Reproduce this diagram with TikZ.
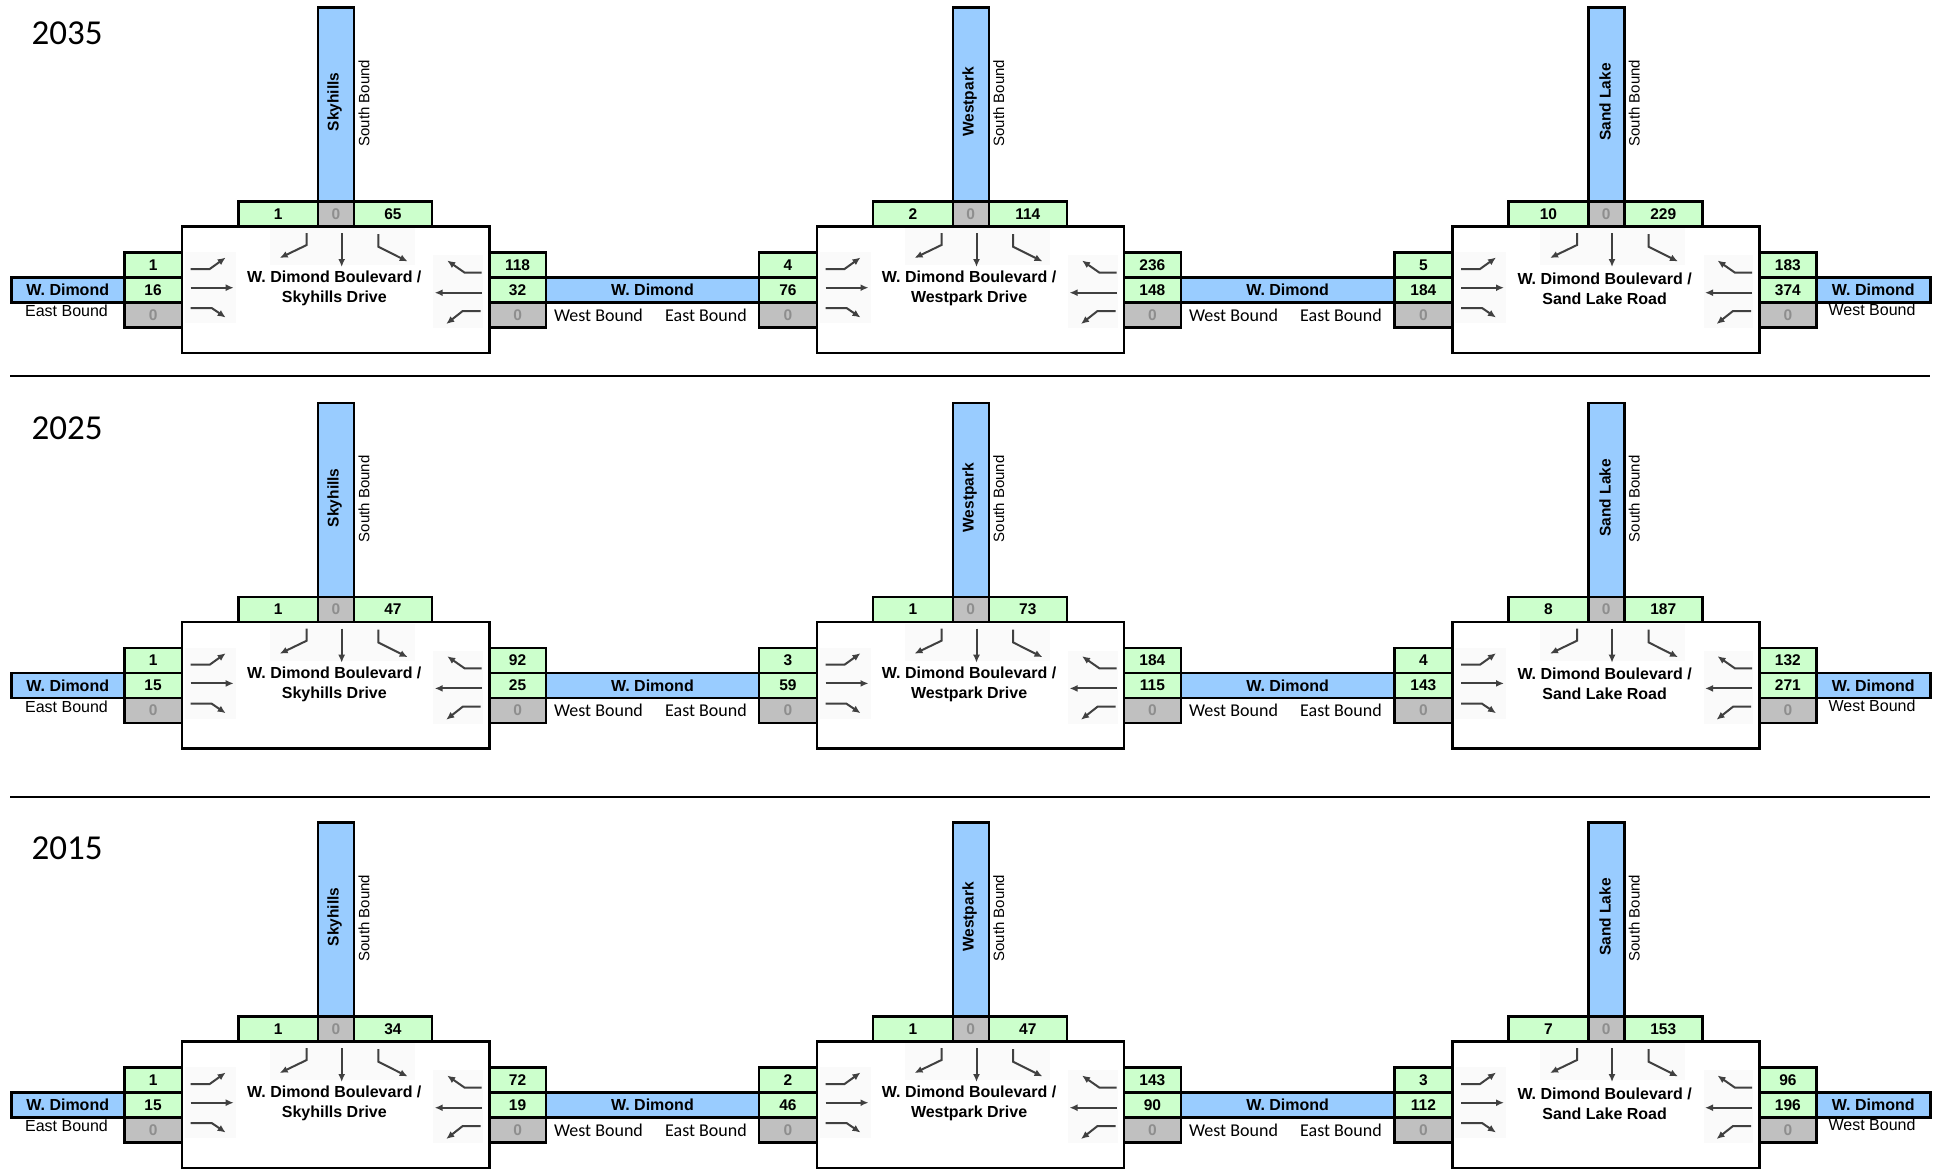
\documentclass[tikz,border=0pt]{standalone}
\usepackage{fontspec}
\setmainfont{Liberation Sans}
\newfontfamily\calfont{Carlito}
\usetikzlibrary{arrows.meta}
\definecolor{roadblue}{HTML}{99CCFF}
\definecolor{cellgreen}{HTML}{CCFFCC}
\definecolor{cellgray}{HTML}{C0C0C0}
\definecolor{zerogray}{HTML}{8E8E8E}
\tikzset{
 cellbase/.style={draw=black, line width=2.5pt, inner sep=0pt, anchor=north west, minimum height=25pt, font=\fontsize{15.5}{18}\selectfont\bfseries},
 cellg/.style={cellbase, fill=cellgreen},
 cellz/.style={cellbase, fill=cellgray, text=zerogray},
 roadv/.style={draw=black, line width=2.5pt, fill=roadblue, inner sep=0pt, anchor=north west},
 boxst/.style={draw=black, line width=2.5pt, fill=white, inner sep=0pt, anchor=north west},
 roadlbl/.style={font=\fontsize{15.5}{18}\selectfont\bfseries, inner sep=0pt},
 sblbl/.style={font=\fontsize{15}{18}\selectfont, inner sep=0pt},
 ctext/.style={font=\fontsize{16}{20}\selectfont\bfseries, align=center, inner sep=0pt},
 mv/.style={line width=2pt, draw=black!75, -{Latex[length=8pt,width=7pt]}},
 iconbg/.style={fill=black!2, draw=none},
 yearlbl/.style={font=\calfont\fontsize{35}{40}\selectfont, inner sep=0pt},
 bndA/.style={font=\fontsize{16}{19}\selectfont, inner sep=0pt},
 bndC/.style={font=\calfont\fontsize{18}{21}\selectfont, inner sep=0pt},
 bandtext/.style={font=\fontsize{16}{19}\selectfont\bfseries},
 sepline/.style={line width=2pt, draw=black}
}
% #1 Y0, #2 prefix, #3 year
\newcommand\rowbase[3]{%
 \node[yearlbl] (#2year) at (67,{#1-192}) {#3};
 \node[roadv, bandtext, minimum width=113pt, minimum height=25pt] (#2bandA) at (10,{#1+51}) {W. Dimond};
 \node[roadv, bandtext, minimum width=213pt, minimum height=25pt] (#2bandB) at (544.7,{#1+51}) {W. Dimond};
 \node[roadv, bandtext, minimum width=213.8pt, minimum height=25pt] (#2bandC) at (1179.5,{#1+51}) {W. Dimond};
 \node[roadv, bandtext, minimum width=114pt, minimum height=25pt] (#2bandD) at (1815,{#1+51}) {W. Dimond};
 \node[bndA] (#2ebL) at (66.5,{#1+86}) {East Bound};
 \node[bndC] (#2wbA) at (598.5,{#1+90}) {West Bound};
 \node[bndC] (#2ebA) at (706,{#1+90}) {East Bound};
 \node[bndC] (#2wbB) at (1233.5,{#1+90}) {West Bound};
 \node[bndC] (#2ebB) at (1341,{#1+90}) {East Bound};
 \node[bndA] (#2wbR) at (1872,{#1+85}) {West Bound};
}
% #1 X0, #2 Y0, #3 prefix, #4 top-left, #5 top-right, #6 l1, #7 l2, #8 r1, #9 r2
\newcommand\isect[9]{%
 \node[roadv, minimum width=36pt, minimum height=194pt] (#3road) at ({#1+136},{#2-219}) {};
 \node[roadlbl, rotate=90] (#3rname) at ({#1+154},{#2-123}) {\RoadName};
 \node[sblbl, rotate=90] (#3sb) at ({#1+183.3},{#2-122}) {South Bound};
 \node[boxst, minimum width=307.3pt, minimum height=126.7pt] (#3box) at (#1,#2) {};
 \node[cellg, minimum width=79.7pt] (#3t1) at ({#1+56.3},{#2-25}) {#4};
 \node[cellz, minimum width=36pt] (#3t2) at ({#1+136},{#2-25}) {0};
 \node[cellg, minimum width=78pt] (#3t3) at ({#1+172},{#2-25}) {#5};
 \node[cellg, minimum width=57.7pt] (#3l1) at ({#1-57.7},{#2+26}) {#6};
 \node[cellg, minimum width=57.7pt] (#3l2) at ({#1-57.7},{#2+51}) {#7};
 \node[cellz, minimum width=57.7pt] (#3l3) at ({#1-57.7},{#2+76}) {0};
 \node[cellg, minimum width=56.7pt] (#3r1) at ({#1+307.3},{#2+26}) {#8};
 \node[cellg, minimum width=56.7pt] (#3r2) at ({#1+307.3},{#2+51}) {#9};
 \node[cellz, minimum width=56.7pt] (#3r3) at ({#1+307.3},{#2+76}) {0};
 \fill[iconbg] ({#1+4},{#2+27}) rectangle ({#1+55},{#2+98});
 \fill[iconbg] ({#1+89},{#2+3}) rectangle ({#1+234},{#2+40});
 \fill[iconbg] ({#1+252.7},{#2+30}) rectangle ({#1+302},{#2+103});
 \node[ctext] (#3name) at ({#1+153.6},{#2+63.5}) {W. Dimond Boulevard /\\\StreetName};
 \draw[mv] ({#1+10},{#2+44}) -- ({#1+29},{#2+44}) -- ({#1+45},{#2+32.5});
 \draw[mv] ({#1+10},{#2+62.7}) -- ({#1+53},{#2+62.7});
 \draw[mv] ({#1+10},{#2+83}) -- ({#1+31},{#2+83}) -- ({#1+45},{#2+92.5});
 \draw[mv] ({#1+126},{#2+8}) -- ({#1+126},{#2+20}) -- ({#1+99},{#2+33});
 \draw[mv] ({#1+161},{#2+8}) -- ({#1+161},{#2+42});
 \draw[mv] ({#1+197.6},{#2+9}) -- ({#1+197.6},{#2+21.7}) -- ({#1+227},{#2+36.5});
 \draw[mv] ({#1+301},{#2+47.7}) -- ({#1+284},{#2+47.7}) -- ({#1+266.5},{#2+35.5});
 \draw[mv] ({#1+301},{#2+67.7}) -- ({#1+254},{#2+67.7});
 \draw[mv] ({#1+300},{#2+86}) -- ({#1+282},{#2+86}) -- ({#1+265.5},{#2+99});
}
\begin{document}
\begin{tikzpicture}[x=1pt,y=-1pt]
\useasboundingbox (0,0) rectangle (1942,1168);
\fill[white] (0,0) rectangle (1942,1168);
% separators
\coordinate (sepAl) at (10,375.5);
\coordinate (sepAr) at (1930,375.5);
\coordinate (sepBl) at (10,796.5);
\coordinate (sepBr) at (1930,796.5);
\draw[sepline] (sepAl) -- (sepAr);
\draw[sepline] (sepBl) -- (sepBr);
% 2035
\rowbase{225}{a}{2035}
\def\RoadName{Skyhills}\def\StreetName{Skyhills Drive}
\isect{180.7}{225}{aA}{1}{65}{1}{16}{118}{32}
\def\RoadName{Westpark}\def\StreetName{Westpark Drive}
\isect{815.5}{225}{aB}{2}{114}{4}{76}{236}{148}
\def\RoadName{Sand Lake}\def\StreetName{Sand Lake Road}
\isect{1451}{225}{aC}{10}{229}{5}{184}{183}{374}
% 2025
\rowbase{620.7}{b}{2025}
\def\RoadName{Skyhills}\def\StreetName{Skyhills Drive}
\isect{180.7}{620.7}{bA}{1}{47}{1}{15}{92}{25}
\def\RoadName{Westpark}\def\StreetName{Westpark Drive}
\isect{815.5}{620.7}{bB}{1}{73}{3}{59}{184}{115}
\def\RoadName{Sand Lake}\def\StreetName{Sand Lake Road}
\isect{1451}{620.7}{bC}{8}{187}{4}{143}{132}{271}
% 2015
\rowbase{1040}{c}{2015}
\def\RoadName{Skyhills}\def\StreetName{Skyhills Drive}
\isect{180.7}{1040}{cA}{1}{34}{1}{15}{72}{19}
\def\RoadName{Westpark}\def\StreetName{Westpark Drive}
\isect{815.5}{1040}{cB}{1}{47}{2}{46}{143}{90}
\def\RoadName{Sand Lake}\def\StreetName{Sand Lake Road}
\isect{1451}{1040}{cC}{7}{153}{3}{112}{96}{196}
\end{tikzpicture}
\end{document}
